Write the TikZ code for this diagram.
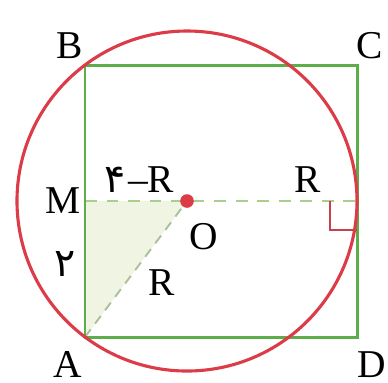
\documentclass[tikz,border=0pt]{standalone}
\usepackage{fontspec}
\setmainfont{Liberation Serif}
\newfontfamily\fadigits[Script=Arabic]{DejaVu Sans}
\usetikzlibrary{positioning,calc}
\definecolor{geoSq}{HTML}{5DAE4A}
\definecolor{geoDash}{HTML}{A8D08D}
\definecolor{geoCirc}{HTML}{DC3B48}
\definecolor{geoFill}{HTML}{F0F4E2}
\definecolor{geoMark}{HTML}{C8404A}
\tikzset{
  square/.style={draw=geoSq, line width=1.25pt},
  circ/.style={draw=geoCirc, line width=1.3pt},
  dashline/.style={draw=geoDash, line width=1pt, dash pattern=on 5pt off 4pt},
  radius line/.style={draw=geoDash!80!black!70, line width=0.8pt, dash pattern=on 4pt off 3pt},
  ptlabel/.style={font=\fontsize{16.5}{16.5}\selectfont, inner sep=0pt},
  lenlabel/.style={font=\fontsize{16.5}{16.5}\selectfont, inner sep=0pt}
}
\begin{document}
\begin{tikzpicture}
  \useasboundingbox (-1.25,-0.676) rectangle (4.456,4.956);
  \coordinate (A) at (0,0);
  \coordinate (B) at (0,4);
  \coordinate (C) at (4,4);
  \coordinate (D) at (4,0);
  \coordinate (M) at (0,2);
  \coordinate (O) at (1.5,2);
  \coordinate (T) at (4,2);
  % shaded triangle
  \fill[geoFill] (A) -- (M) -- (O) -- cycle;
  \draw[dashline] (M) -- (T);
  \draw[radius line] (A) -- (O);
  \draw[square] (A) rectangle (C);
  % right angle mark
  \draw[geoMark, line width=0.9pt] ($(T)+(-0.4,0)$) -- ++(0,-0.42) -- ++(0.4,0);
  \draw[circ] (O) circle (2.5);
  \fill[geoCirc] (O) circle (0.1);
  % labels
  \node[ptlabel] (lA) at (-0.25,-0.41) {A};
  \node[ptlabel] (lB) at (-0.22,4.29) {B};
  \node[ptlabel] (lC) at (4.19,4.29) {C};
  \node[ptlabel] (lD) at (4.22,-0.41) {D};
  \node[ptlabel] (lM) at (-0.32,2.01) {M};
  \node[ptlabel] (lO) at (1.74,1.48) {O};
  \node[lenlabel] (lMO) at (0.8,2.31) {{\fadigits ۴}\kern1pt--R};
  \node[lenlabel] (lOT) at (3.28,2.31) {R};
  \node[lenlabel] (lAO) at (1.13,0.8) {R};
  \node[lenlabel] (lAM) at (-0.3,1.08) {\fadigits ۲};
\end{tikzpicture}
\end{document}
